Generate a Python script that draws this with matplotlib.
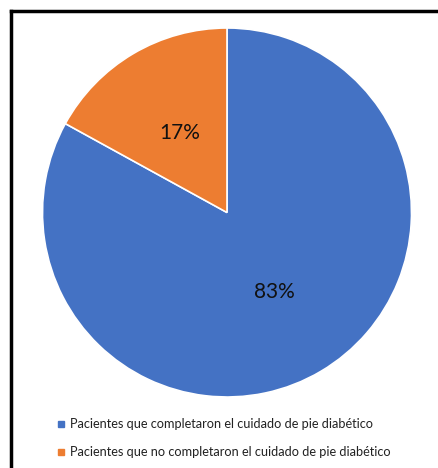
import matplotlib.pyplot as plt
from matplotlib.lines import Line2D

# data
labels = ['Pacientes que completaron el cuidado de pie diabético',
          'Pacientes que no completaron el cuidado de pie diabético']
values = [83, 17]
colors = ['#4472C4', '#ED7D31']

plt.rcParams['font.family'] = ['Lato', 'DejaVu Sans']

W, H = 439, 468
fig = plt.figure(figsize=(W / 100, H / 100), dpi=100)
ax = fig.add_axes([0, 0, 1, 1])

ax.pie(values, colors=colors, startangle=90, counterclock=False,
       center=(227, H - 212.5), radius=184.5, frame=True,
       autopct='%1.0f%%', pctdistance=0.5,
       wedgeprops=dict(edgecolor='white', linewidth=1.2),
       textprops=dict(fontsize=15, color='#111111'))
ax.set_xlim(0, W)
ax.set_ylim(0, H)
ax.set_aspect('equal')
ax.axis('off')

# outer frame
ax.plot([11, 11], [-5, H - 11], color='black', lw=2.5, clip_on=False)
ax.plot([11, W + 5], [H - 11, H - 11], color='black', lw=2.5, clip_on=False)

handles = [Line2D([], [], marker='s', linestyle='none', markersize=4.5,
                  markerfacecolor=c, markeredgecolor=c) for c in colors]
ax.legend(handles, labels, loc='upper left', bbox_to_anchor=(57 / W, 1 - 418 / H),
          bbox_transform=fig.transFigure, frameon=False, fontsize=9.2,
          handlelength=0.6, handletextpad=0.4, labelspacing=1.25,
          borderaxespad=0, borderpad=0, labelcolor='#222222')

fig.savefig('out.png', dpi=100)
